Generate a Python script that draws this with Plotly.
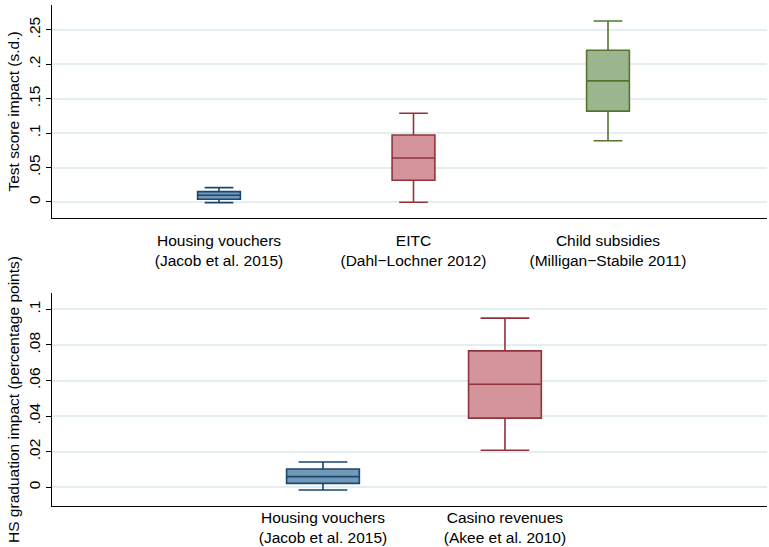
import plotly.graph_objects as go

# ---- Data ----
top_labels = ["Housing vouchers<br>(Jacob et al. 2015)",
              "EITC<br>(Dahl\u2212Lochner 2012)",
              "Child subsidies<br>(Milligan\u2212Stabile 2011)"]
top_low = [-0.001, -0.0005, 0.089]
top_q1 = [0.0039, 0.0315, 0.132]
top_med = [0.0098, 0.064, 0.176]
top_q3 = [0.015, 0.0974, 0.2205]
top_high = [0.0208, 0.129, 0.263]

bot_labels = ["Housing vouchers<br>(Jacob et al. 2015)",
              "Casino revenues<br>(Akee et al. 2010)"]
bot_low = [-0.0015, 0.0208]
bot_q1 = [0.0022, 0.0389]
bot_med = [0.006, 0.0579]
bot_q3 = [0.0103, 0.0767]
bot_high = [0.0142, 0.0951]

top_yticks = [0, 0.05, 0.1, 0.15, 0.2, 0.25]
top_yticktext = ["0", ".05", ".1", ".15", ".2", ".25"]
bot_yticks = [0, 0.02, 0.04, 0.06, 0.08, 0.1]
bot_yticktext = ["0", ".02", ".04", ".06", ".08", ".1"]

line_cols = ["#1a476f", "#90353b", "#55752f"]
fill_cols = ["#7399b9", "#d3959b", "#9bb68f"]

FONT = "Liberation Sans, Arial, Helvetica, sans-serif"

fig = go.Figure()

for i in range(3):
    fig.add_trace(go.Box(
        x=[i + 1], q1=[top_q1[i]], median=[top_med[i]], q3=[top_q3[i]],
        lowerfence=[top_low[i]], upperfence=[top_high[i]],
        width=0.22, whiskerwidth=0.67, boxpoints=False,
        line=dict(color=line_cols[i], width=1.6), fillcolor=fill_cols[i],
        xaxis="x", yaxis="y", showlegend=False))

for i in range(2):
    fig.add_trace(go.Box(
        x=[i + 1], q1=[bot_q1[i]], median=[bot_med[i]], q3=[bot_q3[i]],
        lowerfence=[bot_low[i]], upperfence=[bot_high[i]],
        width=0.40, whiskerwidth=0.67, boxpoints=False,
        line=dict(color=line_cols[i], width=1.6), fillcolor=fill_cols[i],
        xaxis="x2", yaxis="y2", showlegend=False))

xcommon = dict(showline=True, linecolor="#000000", linewidth=1, showgrid=False,
               zeroline=False, ticks="",
               tickfont=dict(size=15.5, color="#000000", family=FONT))
ycommon = dict(showline=True, linecolor="#000000", linewidth=1, showgrid=True,
               gridcolor="#e3eef0", gridwidth=1.5, zeroline=False, ticks="outside",
               ticklen=5, tickwidth=1, tickcolor="#000000", tickangle=-90,
               tickfont=dict(size=15.5, color="#000000", family=FONT),
               title_font=dict(size=15.5, color="#000000", family=FONT), title_standoff=2)

fig.update_layout(
    width=769, height=547,
    margin=dict(l=52, r=2, t=5, b=41, autoexpand=False),
    paper_bgcolor="white", plot_bgcolor="white",
    font=dict(family=FONT, size=15, color="#000000"),
    xaxis=dict(domain=[0, 1], anchor="y", range=[0.1414, 3.8175],
               tickvals=[1, 2, 3], ticktext=top_labels, ticklabelstandoff=8, **xcommon),
    yaxis=dict(domain=[0.5749, 1], anchor="x", range=[-0.02326, 0.2863],
               tickvals=top_yticks, ticktext=top_yticktext,
               title_text="Test score impact (s.d.)", **ycommon),
    xaxis2=dict(domain=[0, 1], anchor="y2", range=[-0.489, 3.44],
                tickvals=[1, 2], ticktext=bot_labels, ticklabelstandoff=-3, **xcommon),
    yaxis2=dict(domain=[0, 0.4251], anchor="x2", range=[-0.0105, 0.1092],
                tickvals=bot_yticks, ticktext=bot_yticktext,
                title_text="HS graduation impact (percentage points)", **ycommon),
)

fig.write_html("out.html", config={"displayModeBar": False},
               post_script="document.body.style.margin='0';document.body.style.overflow='hidden';")
